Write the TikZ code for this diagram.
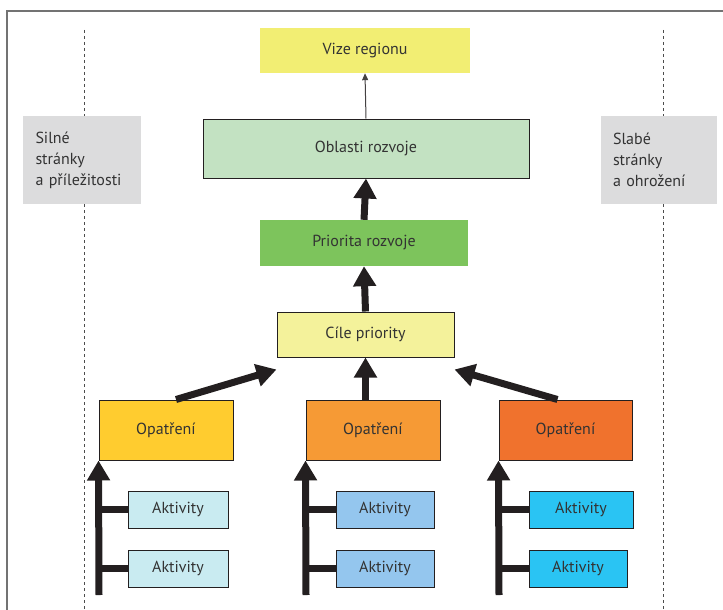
\documentclass[tikz,border=0pt]{standalone}
\usepackage{fontspec}
\setmainfont{PT Sans}
\usetikzlibrary{arrows.meta,positioning,calc}
\definecolor{ink}{HTML}{231F20}
\definecolor{vizec}{HTML}{F2EE73}
\definecolor{oblc}{HTML}{C3E2C2}
\definecolor{prioc}{HTML}{7DC45C}
\definecolor{cilec}{HTML}{F4F29B}
\definecolor{opa}{HTML}{FFCC2F}
\definecolor{opb}{HTML}{F69A35}
\definecolor{opc}{HTML}{F0722D}
\definecolor{aka}{HTML}{C9EBF1}
\definecolor{akb}{HTML}{94C6EE}
\definecolor{akc}{HTML}{2AC4F3}
\definecolor{swot}{HTML}{DCDCDD}

\begin{document}
\begin{tikzpicture}[x=1pt,y=-1pt,
  every node/.style={font=\fontsize{16}{19}\selectfont,text=black!80},
  plain/.style={inner sep=0pt,minimum height=45pt},
  box/.style={draw=ink,line width=1pt,inner sep=0pt},
  swotbox/.style={fill=swot,inner sep=0pt,minimum width=118pt,minimum height=88pt,align=left,text width=92pt},
  fat/.style={line width=7pt,ink,-{Triangle[length=20pt,width=22pt]}},
  branch/.style={line width=7pt,ink}]
\useasboundingbox (0,0) rectangle (723,610);
% frame
\draw[black!55,line width=1.5pt] (7,610) -- (7,11) -- (723,11);
% dashed guides
\draw[dashed,black!70,line width=0.8pt] (84,30) -- (84,610);
\draw[dashed,black!70,line width=0.8pt] (663,30) -- (663,610);
% top of the hierarchy
\node[plain,fill=vizec,minimum width=210pt] (vize) at (365,50.5) {Vize regionu};
\node[box,fill=oblc,minimum width=326pt,minimum height=59pt] (oblasti) at (366,148.5) {Oblasti rozvoje};
\node[plain,fill=prioc,minimum width=208pt,minimum height=46pt] (priorita) at (364,243) {Priorita rozvoje};
\node[box,fill=cilec,minimum width=177pt,minimum height=45pt] (cile) at (365.5,334.5) {Cíle priority};
% side boxes
\node[swotbox] (silne) at (81.5,160) {Silné\\[2pt]stránky\\[2pt]a příležitosti};
\node[swotbox,minimum width=116pt] (slabe) at (659,160) {Slabé\\[2pt]stránky\\[2pt]a ohrožení};
% measures
\node[box,fill=opa,minimum width=134pt,minimum height=60pt] (op1) at (166,430) {Opatření};
\node[box,fill=opb,minimum width=134pt,minimum height=60pt] (op2) at (373,430) {Opatření};
\node[box,fill=opc,minimum width=133pt,minimum height=60pt] (op3) at (565.5,430) {Opatření};
% activities
\node[box,fill=aka,minimum width=100pt,minimum height=37pt] (ak11) at (178,509.5) {Aktivity};
\node[box,fill=aka,minimum width=100pt,minimum height=37pt] (ak12) at (178,568.5) {Aktivity};
\node[box,fill=akb,minimum width=98pt,minimum height=37pt] (ak21) at (385,509.5) {Aktivity};
\node[box,fill=akb,minimum width=98pt,minimum height=37pt] (ak22) at (385,568.5) {Aktivity};
\node[box,fill=akc,minimum width=104pt,minimum height=37pt] (ak31) at (581,509.5) {Aktivity};
\node[box,fill=akc,minimum width=98pt,minimum height=37pt] (ak32) at (578,568.5) {Aktivity};
\coordinate (t1) at (99,595);
\coordinate (t2) at (306,595);
\coordinate (t3) at (499,595);
% arrows
\draw[ink!85,line width=1pt,-{Triangle[length=7pt,width=6pt]}] (oblasti.north) -- (vize.south);
\draw[fat] (priorita.north) -- (oblasti.south);
\draw[fat] (cile.north) -- (priorita.south);
\draw[fat] (op2.north -| cile.south) -- (cile.south);
\draw[fat] ([xshift=10pt]op1.north) -- ([yshift=-12pt]cile.south west);
\draw[fat] ([xshift=-8pt]op3.north) -- ([yshift=-12pt]cile.south east);
\draw[fat] (t1) -- (op1.south west);
\draw[fat] (t2) -- (op2.south west);
\draw[fat] (t3) -- (op3.south west);
\draw[branch] (ak11.west -| t1) -- (ak11.west);
\draw[branch] (ak12.west -| t1) -- (ak12.west);
\draw[branch] (ak21.west -| t2) -- (ak21.west);
\draw[branch] (ak22.west -| t2) -- (ak22.west);
\draw[branch] (ak31.west -| t3) -- (ak31.west);
\draw[branch] (ak32.west -| t3) -- (ak32.west);
\end{tikzpicture}
\end{document}
